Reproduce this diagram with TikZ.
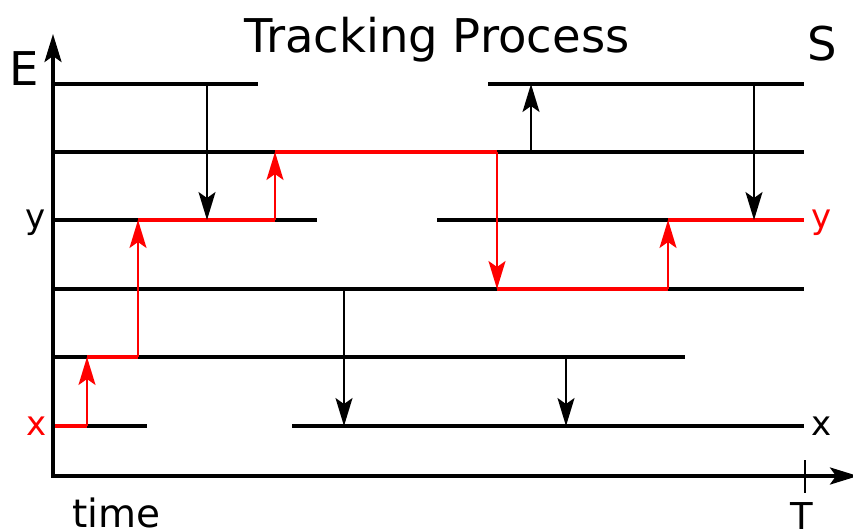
\documentclass[tikz,border=0pt]{standalone}
\usepackage{fontspec}
\setmainfont{DejaVu Sans}
\usetikzlibrary{arrows.meta}
\definecolor{trackred}{RGB}{255,0,0}
\tikzset{
  headtip/.tip={Stealth[length=28pt,width=17pt,inset=6pt]},
  level/.style={line width=3.5pt, black},
  axis/.style={line width=3.5pt, black, -{headtip}},
  jump/.style={line width=1.6pt, black, -{headtip}},
  trackjump/.style={line width=2pt, trackred, -{headtip}},
  trackrun/.style={line width=3.5pt, trackred},
  lbl/.style={inner sep=0pt, font=\fontsize{34}{40}\selectfont},
  big/.style={inner sep=0pt, font=\fontsize{46.5}{52}\selectfont},
  mid/.style={inner sep=0pt, font=\fontsize{39}{46}\selectfont},
}
\begin{document}
\begin{tikzpicture}[x=1pt, y=-1pt]
\useasboundingbox (0,0) rectangle (853,531);

% energy levels
\draw[level] (55,84) -- (258,84);
\draw[level] (488,84) -- (804,84);
\draw[level] (55,152) -- (804,152);
\draw[level] (55,220) -- (317,220);
\draw[level] (437,220) -- (804,220);
\draw[level] (55,289) -- (804,289);
\draw[level] (55,357) -- (685,357);
\draw[level] (55,426) -- (147,426);
\draw[level] (292,426) -- (804,426);

% axes
\coordinate (Etop) at (53,34);
\coordinate (Tend) at (858,476);
\draw[axis] (53,477.7) -- (Etop);
\draw[axis] (51.3,476) -- (Tend);
\coordinate (Ttop) at (805,460);
\coordinate (Tbot) at (805,493);
\draw[line width=1.5pt] (Ttop) -- (Tbot);

% tracked path
\draw[trackrun] (55,426) -- (87,426);
\draw[trackrun] (87,357) -- (138,357);
\draw[trackrun] (138,220) -- (275,220);
\draw[trackrun] (275,152) -- (497,152);
\draw[trackrun] (497,289) -- (668,289);
\draw[trackrun] (668,220) -- (804,220);

% transitions of the other states
\coordinate (a1) at (207,84);  \coordinate (a2) at (207,220);
\coordinate (b1) at (531,152); \coordinate (b2) at (531,84);
\coordinate (c1) at (754,84);  \coordinate (c2) at (754,220);
\coordinate (d1) at (344,289); \coordinate (d2) at (344,426);
\coordinate (e1) at (566,357); \coordinate (e2) at (566,426);
\draw[jump] (a1) -- (a2);
\draw[jump] (b1) -- (b2);
\draw[jump] (c1) -- (c2);
\draw[jump] (d1) -- (d2);
\draw[jump] (e1) -- (e2);

% transitions of the tracked state
\coordinate (r1) at (87,426);  \coordinate (r2) at (87,357);
\coordinate (s1) at (138,357); \coordinate (s2) at (138,220);
\coordinate (t1) at (275,220); \coordinate (t2) at (275,152);
\coordinate (u1) at (497,152); \coordinate (u2) at (497,289);
\coordinate (v1) at (668,289); \coordinate (v2) at (668,220);
\draw[trackjump] (r1) -- (r2);
\draw[trackjump] (s1) -- (s2);
\draw[trackjump] (t1) -- (t2);
\draw[trackjump] (u1) -- (u2);
\draw[trackjump] (v1) -- (v2);

% labels
\node[big, anchor=base] (title) at (437,52) {Tracking Process};
\node[big] (E) at (24,68.5) {E};
\node[big] (S) at (822,44) {S};
\node[lbl, anchor=base] (ylft) at (36,228) {y};
\node[lbl, anchor=base, text=trackred] (yrgt) at (822,228) {y};
\node[lbl, text=trackred] (xlft) at (37,426) {x};
\node[lbl] (xrgt) at (822,426) {x};
\node[mid, anchor=base west] (time) at (72,527) {time};
\node[mid, anchor=base, font=\fontsize{37}{44}\selectfont] (T) at (802,529) {T};
\end{tikzpicture}
\end{document}
